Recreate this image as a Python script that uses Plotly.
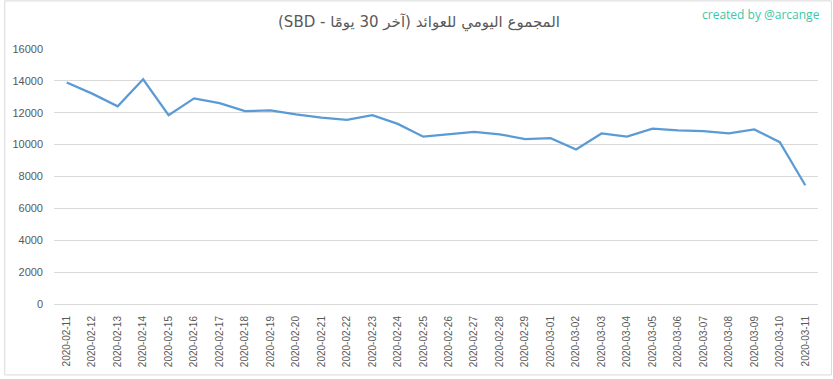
import plotly.graph_objects as go

dates = ["2020-02-11", "2020-02-12", "2020-02-13", "2020-02-14", "2020-02-15", "2020-02-16",
         "2020-02-17", "2020-02-18", "2020-02-19", "2020-02-20", "2020-02-21", "2020-02-22",
         "2020-02-23", "2020-02-24", "2020-02-25", "2020-02-26", "2020-02-27", "2020-02-28",
         "2020-02-29", "2020-03-01", "2020-03-02", "2020-03-03", "2020-03-04", "2020-03-05",
         "2020-03-06", "2020-03-07", "2020-03-08", "2020-03-09", "2020-03-10", "2020-03-11"]
sbd = [13900, 13200, 12400, 14100, 11850, 12900,
       12600, 12100, 12150, 11900, 11700, 11550,
       11850, 11300, 10500, 10650, 10800, 10650,
       10350, 10400, 9700, 10700, 10500, 11000,
       10900, 10850, 10700, 10950, 10150, 7450]
y_ticks = [0, 2000, 4000, 6000, 8000, 10000, 12000, 14000, 16000]

title_text = "المجموع اليومي للعوائد (آخر 30 يومًا - SBD)"
credit_text = "created by @arcange"

W, H = 833, 379
ML, MR, MT, MB = 50, 15, 49, 73
PW, PH = W - ML - MR, H - MT - MB

fig = go.Figure()
fig.add_trace(go.Scatter(
    x=dates, y=sbd, mode="lines",
    line=dict(color="#5b9bd5", width=2.25),
    hoverinfo="x+y", showlegend=False,
))

fig.update_layout(
    width=W, height=H,
    margin=dict(l=ML, r=MR, t=MT, b=MB),
    paper_bgcolor="white", plot_bgcolor="white",
    font=dict(family="Liberation Sans, Arial, sans-serif", color="#595959"),
    xaxis=dict(
        type="category", categoryorder="array", categoryarray=dates,
        range=[-0.5, len(dates) - 0.5],
        tickangle=-90, tickfont=dict(size=10, color="#595959"),
        showgrid=False, showline=True, linecolor="#d9d9d9", linewidth=1,
        ticks="", ticklabelstandoff=7, zeroline=False,
    ),
    yaxis=dict(
        range=[0, 16000], tickvals=y_ticks, ticktext=[str(v) for v in y_ticks],
        tickfont=dict(size=11, color="#595959"),
        showgrid=True, gridcolor="#d9d9d9", gridwidth=1,
        zeroline=False, showline=False, ticks="", ticklabelstandoff=10,
    ),
    annotations=[
        dict(text="\u202b" + title_text + "\u202c", xref="paper", yref="paper",
             x=(W / 2 - ML) / PW, y=1 + (MT - 22) / PH, xanchor="center", yanchor="middle",
             showarrow=False, font=dict(size=15, color="#595959", family="DejaVu Sans, sans-serif")),
        dict(text=credit_text, xref="paper", yref="paper",
             x=(822 - ML) / PW, y=1 + (MT - 14) / PH, xanchor="right", yanchor="middle",
             showarrow=False, font=dict(size=12, color="#3cc8a8", family="Open Sans, sans-serif")),
    ],
    shapes=[
        dict(type="rect", xref="paper", yref="paper",
             x0=-(ML - 0.5) / PW, x1=1 + (MR - 1.5) / PW,
             y0=-(MB - 1.5) / PH, y1=1 + (MT - 0.5) / PH,
             line=dict(color="#d9d9d9", width=1), fillcolor="rgba(0,0,0,0)", layer="below"),
    ],
)

fig.write_html("out.html", config={"displayModeBar": False},
               post_script="document.body.style.margin='0';document.body.style.overflow='hidden';")
